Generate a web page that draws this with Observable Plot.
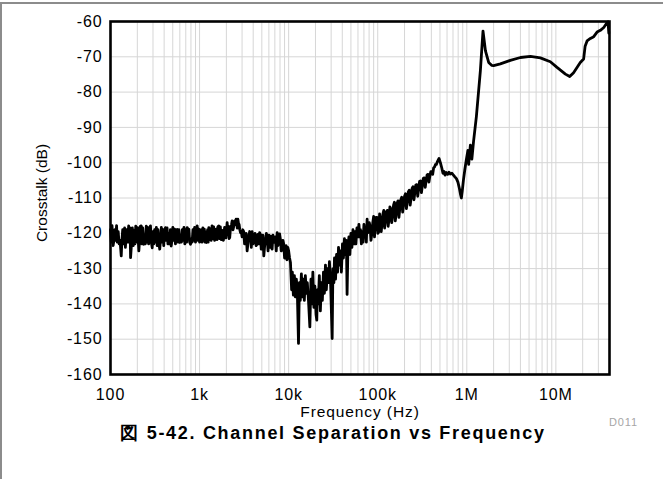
<!DOCTYPE html>
<html>
<head>
<meta charset="utf-8">
<script src="https://cdn.jsdelivr.net/npm/d3@7"></script>
<script src="https://cdn.jsdelivr.net/npm/@observablehq/plot@0.6"></script>
<style>
html, body { margin: 0; padding: 0; background: #fff; }
#wrap { position: relative; width: 663px; height: 479px; overflow: hidden; font-family: "Liberation Sans", Arial, sans-serif; }
#topline { position: absolute; left: 0; top: 2px; width: 663px; height: 2px; background: #8c8c8c; }
#leftline { position: absolute; left: 0; top: 2px; width: 2px; height: 477px; background: #8c8c8c; }
#chart { position: absolute; left: 0; top: 0; }
#title { position: absolute; left: 0; top: 421px; width: 666px; height: 24px; line-height: 24px; text-align: center; font-weight: bold; font-size: 18px; letter-spacing: 1.7px; color: #000; }
#chart svg text { letter-spacing: 0.9px; }
</style>
</head>
<body>
<div id="wrap">
  <div id="chart"></div>
  <div id="title">図 5-42. Channel Separation vs Frequency</div>
  <div id="topline"></div>
  <div id="leftline"></div>
</div>
<script>
// ---- Data (frequency Hz, crosstalk dB) ----
const trace = [
  [100,-119],[102,-122.5],[104,-117.8],[107,-123.5],[109,-122.2],[112,-119],[114,-122],[117,-117.8],
  [119,-122.5],[122,-119.5],[125,-123],[128,-122],[132,-126.4],[134,-122.5],[137,-119],[141,-123],
  [144,-118.5],[147,-124],[151,-119],[155,-122.5],[160,-117.9],[163,-122.5],[166,-118.5],[168,-126.9],
  [172,-123],[176,-118.5],[180,-123.5],[184,-119.3],[188,-123],[192,-118],[197,-122.5],[201,-118.4],
  [205,-122],[208,-125],[212,-122],[216,-118],[221,-117.9],[225,-123],[230,-118.5],[236,-123.1],
  [240,-122],[246,-123],[252,-118],[258,-122.5],[263,-118.4],[268,-123],[274,-118.5],[281,-117.9],
  [287,-122.5],[294,-124.1],[299,-119.5],[306,-123],[313,-119],[320,-122.5],[327,-118.3],[334,-123.5],
  [341,-119],[348,-122.5],[357,-124.5],[364,-122],[372,-118.3],[380,-122.5],[388,-119],[396,-123.5],
  [405,-119],[414,-118.4],[423,-122],[432,-118.5],[441,-123],[451,-120],[461,-123],[470,-119],
  [480,-123.6],[490,-122],[501,-118.3],[513,-122],[524,-118.8],[536,-123],[548,-119],[560,-118.9],
  [572,-122.5],[586,-119],[600,-122.6],[613,-121.5],[626,-122.5],[640,-119],[654,-122],[668,-118.3],
  [683,-123],[700,-119],[716,-122.5],[726,-118.4],[742,-121.5],[758,-118.8],[774,-122.5],[791,-123.1],
  [808,-121.5],[825,-122.5],[843,-119],[860,-122],[880,-118.3],[900,-122.5],[920,-119],[940,-117.9],
  [960,-122],[980,-118.8],[1000,-122.5],[1020,-121.7],[1042,-119],[1065,-122.5],[1088,-118.5],[1110,-122],
  [1130,-118.8],[1150,-122.5],[1170,-119.5],[1190,-122.6],[1210,-121.8],[1230,-119],[1250,-122.5],[1270,-118.4],
  [1295,-121.8],[1320,-118.8],[1350,-122],[1380,-117.9],[1410,-121.5],[1440,-118.2],[1475,-122],[1510,-121.2],
  [1540,-118.8],[1570,-121.8],[1605,-118.2],[1640,-117.9],[1675,-121.5],[1710,-118.2],[1750,-121.8],[1790,-119.2],
  [1850,-122],[1910,-118.3],[1975,-121.3],[2040,-117],[2075,-119.5],[2110,-118],[2145,-121.5],[2180,-121.2],
  [2215,-119],[2250,-118.2],[2285,-117.5],[2320,-116.5],[2375,-119],[2430,-117.8],[2480,-116.5],[2530,-117.5],
  [2570,-116],[2610,-117.2],[2650,-118.5],[2690,-116],[2735,-117.2],[2780,-117.5],[2830,-119],[2880,-119.8],
  [2940,-119.5],[3000,-121],[3060,-119],[3130,-119.5],[3200,-123],[3270,-122],[3340,-120],[3420,-125],
  [3490,-123],[3570,-121],[3650,-119.5],[3730,-120],[3810,-124],[3890,-119.5],[3990,-123],[4100,-122],
  [4200,-120],[4310,-123.5],[4430,-123.1],[4520,-120.3],[4620,-123],[4720,-119.8],[4820,-120.3],[4920,-124.5],
  [5030,-122.5],[5140,-120.5],[5260,-126.4],[5380,-123.5],[5500,-122],[5620,-120],[5740,-121.2],[5870,-125],
  [6000,-120.5],[6120,-124],[6250,-120.8],[6380,-123.5],[6520,-124.5],[6660,-120.5],[6810,-122.6],[6950,-122.5],
  [7100,-121],[7260,-125],[7430,-119.8],[7590,-123.5],[7750,-122],[7920,-120.2],[8090,-121.8],[8260,-125],
  [8440,-124.7],[8620,-122],[8800,-123],[9000,-127],[9210,-125.2],[9380,-123.5],[9560,-127.5],[9780,-124],
  [10000,-125],[10240,-127],[10480,-128.3],
  [10800,-136],[11000,-131],[11300,-137.5],[11600,-132],[11900,-138],[12200,-133],[12500,-136],[12900,-151.2],
  [13200,-134],[13500,-139],[13900,-131.5],[14200,-138],[14600,-133],[15000,-139],[15400,-132],[15800,-137],
  [16200,-134],[16700,-139],[17300,-146.5],[17800,-133],[18300,-140],[18700,-131],[19200,-141],[19700,-135],
  [20300,-143],[20700,-144.6],[21000,-136],[21500,-140],[22100,-132],[22700,-142],[23300,-134],[23900,-139],
  [24600,-131],[25200,-137],[25900,-129],[26500,-136],[27300,-130],[28000,-134],[28700,-128],[29500,-133],
  [30800,-149.8],[31400,-130],[32200,-134],[32700,-127],[33600,-133],[34500,-126],[35400,-131],[36300,-124],
  [37200,-129],[38100,-125],[39100,-131],[40200,-123],[41200,-127],[42300,-121.5],[43400,-126],[44500,-122],
  [45300,-137.3],[46300,-124],[47500,-121],[48700,-126],[50000,-120],[51300,-124],[52700,-119],[54000,-123],
  [55500,-119.5],[56900,-123],[58400,-118.5],[59900,-121],[61500,-117.5],[63100,-121],
  [64000,-119],[65500,-123],[67000,-119.5],[68500,-122.5],[70000,-117.5],[71500,-120.5],[73000,-119],[74500,-122.5],
  [76000,-116],[77500,-119.8],[79000,-119.5],[80500,-117],[82000,-118],[84000,-122],[86000,-120],[88000,-117],
  [90000,-115.2],[92000,-121],[94000,-117.5],[96000,-115.5],[98000,-115.5],[100500,-120],[103000,-119.5],[105000,-114.5],
  [107000,-116],[109500,-119.5],[112000,-117],[114500,-114.5],[117000,-113.5],[119500,-118.5],[122000,-116.5],[125000,-114],
  [128000,-113.5],[131000,-118],[134000,-116],[137000,-112.5],[140000,-113],[143500,-117],[147000,-115],[150500,-112],
  [154000,-111.2],[157500,-116.5],[161000,-114.5],[165000,-111.5],[169000,-110.8],[173000,-115.5],[177000,-113],[181500,-110.5],
  [186000,-109.8],[190500,-114],[195000,-112],[200000,-109.5],[205000,-108.8],[210000,-113],[215000,-111],[220500,-108.3],
  [226000,-107.8],[231500,-112],[237000,-110],[243000,-107.3],[249000,-106.8],[255000,-110.5],[261000,-108.5],[267500,-106.3],
  [274000,-106.2],[281000,-109.5],[288000,-107.5],[295000,-105.3],[302000,-105.2],[309500,-108.5],[317000,-106.5],[325000,-104.4],
  [333000,-104.3],[341500,-107],[350000,-105],[358500,-103.4],[367000,-103.3],[376000,-105.5],[385000,-103.8],[394500,-102.5],
  [404000,-102.5],[414000,-103.3],[424000,-101.5],[434500,-101.2],[445000,-100.5],[455500,-100.5],[466000,-99.8],[477000,-99.3],
  [488000,-98.8],[505000,-100],[524000,-101.5],[540000,-103],
  [555000,-102.5],[570000,-103.5],[588000,-102.8],[610000,-103.3],[630000,-102.7],[654000,-103.2],[680000,-103],[708000,-103.5],
  [735000,-104],[765000,-104.5],[795000,-105.5],[826000,-107.3],[850000,-109],[869000,-110],[890000,-108],[916000,-105],
  [950000,-102],[990000,-99],[1030000,-96.5],[1050000,-100.5],[1070000,-98],[1097000,-95],[1120000,-97],[1140000,-99],
  [1190000,-94],[1280000,-87],[1420000,-74],[1520000,-62.7],
  [1620000,-68.3],[1760000,-71.6],[1900000,-72.4],[2000000,-72.5],[2380000,-72],[3080000,-71],[4000000,-70.2],[5180000,-69.9],
  [6700000,-70.3],[8670000,-71.4],[10300000,-73],[12800000,-74.9],[14300000,-75.6],[15800000,-74.5],[18800000,-71.6],[20500000,-70.6],
  [21300000,-67],[22400000,-65.5],[24400000,-64.8],[26600000,-64.3],[29000000,-63],[31600000,-62.5],[34500000,-61.7],[37600000,-60.3],
  [38500000,-60.1],[39300000,-63.3]
];

const xTicks = [100, 1000, 10000, 100000, 1000000, 10000000];
const xTickLabels = ["100", "1k", "10k", "100k", "1M", "10M"];
const xMinorMultipliers = [2, 3, 4, 5, 6, 7, 8, 9];
const yTicks = [-160, -150, -140, -130, -120, -110, -100, -90, -80, -70, -60];
const xDomain = [100, 40000000];
const yDomain = [-160, -60];
const xLabel = "Frequency (Hz)";
const yLabel = "Crosstalk (dB)";
const figureCode = "D011";

const data = trace.map(([f, db]) => ({f, db}));
const gridFreqs = xTicks.concat(xTicks.flatMap(t => xMinorMultipliers.map(m => t * m)))
  .filter(v => v >= xDomain[0] && v <= xDomain[1]);
const labelOf = new Map(xTicks.map((t, i) => [t, xTickLabels[i]]));

const chart = Plot.plot({
  width: 663,
  height: 440,
  marginLeft: 110,
  marginRight: 54,
  marginTop: 21,
  marginBottom: 66,
  style: { fontFamily: "'Liberation Sans', Arial, sans-serif", fontSize: "16px", background: "transparent", color: "#000" },
  x: { type: "log", domain: xDomain },
  y: { domain: yDomain },
  marks: [
    Plot.gridX(gridFreqs, { stroke: "#d6d6d6", strokeOpacity: 1, strokeWidth: 1 }),
    Plot.gridY(yTicks, { stroke: "#d6d6d6", strokeOpacity: 1, strokeWidth: 1 }),
    Plot.line(data, { x: "f", y: "db", stroke: "#000", strokeWidth: 2.8, strokeLinejoin: "round" }),
    Plot.frame({ stroke: "#000", strokeWidth: 2.6 }),
    Plot.axisX(xTicks, { tickSize: 0, tickPadding: 14, fontSize: 16, tickFormat: d => labelOf.get(d), label: null }),
    Plot.axisY(yTicks, { tickSize: 0, tickPadding: 8, fontSize: 16, tickFormat: d => String(d), label: null }),
    Plot.text([xLabel], { frameAnchor: "bottom", dy: 38, lineAnchor: "middle", textAnchor: "middle", fontSize: 15.5, text: d => d }),
    Plot.text([yLabel], { frameAnchor: "left", dx: -68, dy: -5, rotate: -90, lineAnchor: "middle", textAnchor: "middle", fontSize: 15.5, text: d => d }),
    Plot.text([figureCode], { frameAnchor: "bottom-right", dx: 14, dy: 48, lineAnchor: "middle", textAnchor: "middle", fontSize: 11, fill: "#a6a6a6", text: d => d })
  ]
});
document.getElementById("chart").appendChild(chart);
d3.select(chart).selectAll("text").filter(function () { return this.textContent === yLabel; }).style("letter-spacing", "0px");
</script>
</body>
</html>
